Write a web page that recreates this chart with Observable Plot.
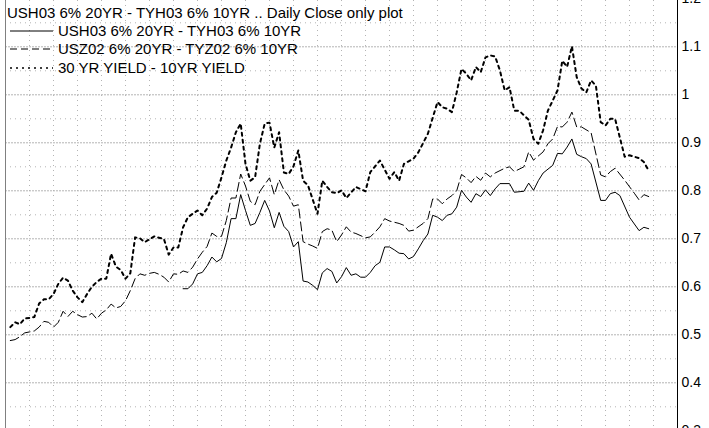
<!DOCTYPE html>
<html>
<head>
<meta charset="utf-8">
<script src="https://cdn.jsdelivr.net/npm/d3@7"></script>
<script src="https://cdn.jsdelivr.net/npm/@observablehq/plot@0.6"></script>
<style>
  html, body { margin: 0; padding: 0; background: #fff; }
  #wrap { position: relative; width: 709px; height: 428px; overflow: hidden; font-family: "Liberation Sans", Arial, sans-serif; }
  #legend { position: absolute; left: 0; top: 0; }
</style>
</head>
<body>
<div id="wrap"></div>
<script>
// ---- Data (trading-day index, spread value) ----
const titleText = "USH03 6% 20YR - TYH03 6% 10YR .. Daily Close only plot";
const seriesNames = ["USH03 6% 20YR - TYH03 6% 10YR", "USZ02 6% 20YR - TYZ02 6% 10YR", "30 YR YIELD - 10YR YIELD"];

const ushDays = [37,38,39,40,41,42,43,44,45,46,47,48,49,50,51,52,53,54,55,56,57,58,59,60,61,62,63,64,65,66,67,68,69,70,71,72,73,74,75,76,77,78,79,80,81,82,83,84,85,86,87,88,89,90,91,92,93,94,95,96,97,98,99,100,101,102,103,105,106,108,109,110,111,112,114,115,116,117,118,119,120,121,122,124,125,126,127,128,130,132,133,134];
const ushVals = [0.596,0.596,0.606,0.627,0.630,0.644,0.662,0.652,0.659,0.692,0.742,0.742,0.792,0.759,0.728,0.732,0.755,0.780,0.758,0.723,0.755,0.726,0.715,0.683,0.694,0.612,0.610,0.603,0.594,0.629,0.638,0.632,0.608,0.621,0.640,0.624,0.627,0.620,0.620,0.630,0.644,0.651,0.683,0.683,0.677,0.670,0.669,0.658,0.663,0.679,0.696,0.710,0.749,0.745,0.738,0.749,0.752,0.766,0.801,0.787,0.776,0.794,0.788,0.802,0.790,0.804,0.815,0.815,0.797,0.799,0.816,0.801,0.821,0.837,0.853,0.878,0.877,0.891,0.908,0.876,0.871,0.867,0.856,0.780,0.780,0.794,0.797,0.790,0.745,0.717,0.724,0.721];

const uszDays = [1,2,3,4,5,6,7,8,9,10,11,12,13,14,15,16,17,18,19,20,21,22,23,24,25,26,27,28,29,30,31,32,33,34,35,36,37,38,39,40,41,42,43,44,45,46,47,48,49,50,51,52,53,54,55,56,57,58,59,60,61,62,63,64,65,66,67,68,69,70,71,72,73,75,76,77,78,79,80,82,83,84,85,87,88,89,90,91,92,93,94,95,96,97,98,99,100,101,102,104,105,106,108,109,110,112,113,114,115,116,117,118,119,120,122,124,125,126,127,129,131,132,133,134];
const uszVals = [0.488,0.490,0.496,0.504,0.506,0.508,0.516,0.528,0.526,0.516,0.526,0.549,0.538,0.549,0.542,0.537,0.538,0.545,0.533,0.545,0.552,0.564,0.556,0.559,0.571,0.592,0.617,0.627,0.624,0.628,0.630,0.626,0.620,0.610,0.627,0.626,0.633,0.630,0.641,0.658,0.672,0.684,0.712,0.705,0.705,0.738,0.785,0.785,0.835,0.810,0.778,0.771,0.799,0.813,0.827,0.792,0.823,0.802,0.789,0.768,0.771,0.694,0.689,0.685,0.680,0.715,0.721,0.718,0.694,0.708,0.725,0.714,0.711,0.702,0.704,0.714,0.725,0.742,0.737,0.732,0.728,0.716,0.718,0.732,0.742,0.783,0.783,0.773,0.783,0.790,0.800,0.834,0.827,0.817,0.830,0.822,0.837,0.829,0.837,0.847,0.850,0.840,0.850,0.881,0.864,0.881,0.898,0.908,0.934,0.933,0.943,0.964,0.933,0.933,0.921,0.833,0.829,0.840,0.847,0.822,0.795,0.781,0.792,0.788];

const yldDays = [1,2,3,4,5,6,7,8,9,10,11,12,13,14,15,16,17,18,19,20,21,22,23,24,25,26,27,28,29,31,32,33,34,35,36,37,38,40,41,42,43,44,45,46,47,48,49,50,51,52,53,54,55,56,57,58,59,60,61,62,63,65,66,67,68,69,70,71,73,75,76,78,80,81,82,83,85,86,88,90,91,92,93,94,95,96,97,98,99,100,101,102,103,104,105,106,107,109,110,111,112,113,115,116,117,118,119,120,121,122,123,124,125,126,127,129,130,132,133,134];
const yldVals = [0.516,0.526,0.522,0.534,0.535,0.537,0.565,0.574,0.574,0.585,0.606,0.619,0.613,0.592,0.578,0.568,0.585,0.600,0.610,0.617,0.617,0.669,0.642,0.635,0.617,0.628,0.703,0.701,0.693,0.705,0.702,0.700,0.667,0.682,0.682,0.724,0.745,0.759,0.749,0.763,0.787,0.796,0.828,0.863,0.890,0.922,0.940,0.856,0.821,0.828,0.898,0.940,0.942,0.890,0.922,0.838,0.835,0.851,0.884,0.821,0.812,0.752,0.821,0.808,0.797,0.795,0.801,0.785,0.808,0.799,0.839,0.863,0.825,0.839,0.821,0.856,0.867,0.880,0.919,0.985,0.974,0.971,0.964,1.005,1.054,1.044,1.030,1.058,1.047,1.078,1.082,1.080,1.051,1.009,1.016,0.967,0.967,0.948,0.908,0.898,0.926,0.967,1.009,1.071,1.058,1.101,1.037,1.013,1.005,1.030,1.019,0.943,0.936,0.950,0.950,0.871,0.874,0.868,0.860,0.842];

const yTicks = [0.3,0.4,0.5,0.6,0.7,0.8,0.9,1.0,1.1,1.2];
const yTickLabels = ["0.3","0.4","0.5","0.6","0.7","0.8","0.9","1","1.1","1.2"];
const yMinor = [0.35,0.45,0.55,0.65,0.75,0.85,0.95,1.05,1.15];
const xGrid = d3.range(5, 140, 5);

// ---- Build ----
const toRows = (days, vals) => days.map((d, i) => ({day: d, v: vals[i]}));
const ush = toRows(ushDays, ushVals);
const usz = toRows(uszDays, uszVals);
const yld = toRows(yldDays, yldVals);

const chart = Plot.plot({
  width: 709,
  height: 428,
  marginLeft: 5,
  marginRight: 32,
  marginTop: 0,
  marginBottom: 0,
  style: {fontFamily: "'Liberation Sans', Arial, sans-serif", fontSize: "14px", background: "#fff", color: "#000"},
  x: {domain: [0, 140], range: [5, 677], axis: null},
  y: {domain: [0.3, 1.2], range: [430.3, -1.7], axis: null},
  marks: [
    Plot.ruleX(xGrid, {x: d => d, stroke: "#b4b4b4", strokeDasharray: "1,4", strokeWidth: 1}),
    Plot.ruleY(yMinor, {y: d => d, stroke: "#b4b4b4", strokeDasharray: "1,4", strokeWidth: 1}),
    Plot.ruleY(yTicks, {y: d => d, stroke: "#b4b4b4", strokeDasharray: "2,1", strokeWidth: 1}),
    Plot.frame({anchor: "left", stroke: "#808080"}),
    Plot.frame({anchor: "right", stroke: "#000"}),
    Plot.axisY(yTicks, {anchor: "right", label: null, tickSize: 0, tickPadding: 4, tickFormat: (d) => yTickLabels[yTicks.indexOf(d)], fontSize: 14, fill: "#000"}),
    Plot.line(yld, {x: "day", y: "v", stroke: "#000", strokeWidth: 2, strokeDasharray: "3,4"}),
    Plot.line(usz, {x: "day", y: "v", stroke: "#000", strokeWidth: 1, strokeDasharray: "9,4"}),
    Plot.line(ush, {x: "day", y: "v", stroke: "#000", strokeWidth: 1})
  ]
});
document.getElementById("wrap").appendChild(chart);

// ---- Legend overlay ----
const ns = "http://www.w3.org/2000/svg";
const leg = document.createElementNS(ns, "svg");
leg.setAttribute("id", "legend");
leg.setAttribute("width", "420");
leg.setAttribute("height", "80");
leg.style.fontFamily = "'Liberation Sans', Arial, sans-serif";
leg.style.fontSize = "15px";
const mk = (tag, attrs, txt) => {
  const el = document.createElementNS(ns, tag);
  for (const k in attrs) el.setAttribute(k, attrs[k]);
  if (txt) el.textContent = txt;
  leg.appendChild(el);
  return el;
};
mk("text", {x: 7, y: 18, fill: "#000"}, titleText);
const styles = [
  {w: 1, dash: null},
  {w: 1.2, dash: "7,4"},
  {w: 1.5, dash: "2,4"}
];
const rowY = [31, 49, 68];
seriesNames.forEach((name, i) => {
  const a = {x1: 10, x2: 53, y1: rowY[i], y2: rowY[i], stroke: "#000", "stroke-width": styles[i].w};
  if (styles[i].dash) a["stroke-dasharray"] = styles[i].dash;
  mk("line", a);
  mk("text", {x: 58, y: rowY[i] + 5, fill: "#000"}, name);
});
document.getElementById("wrap").appendChild(leg);
</script>
</body>
</html>
